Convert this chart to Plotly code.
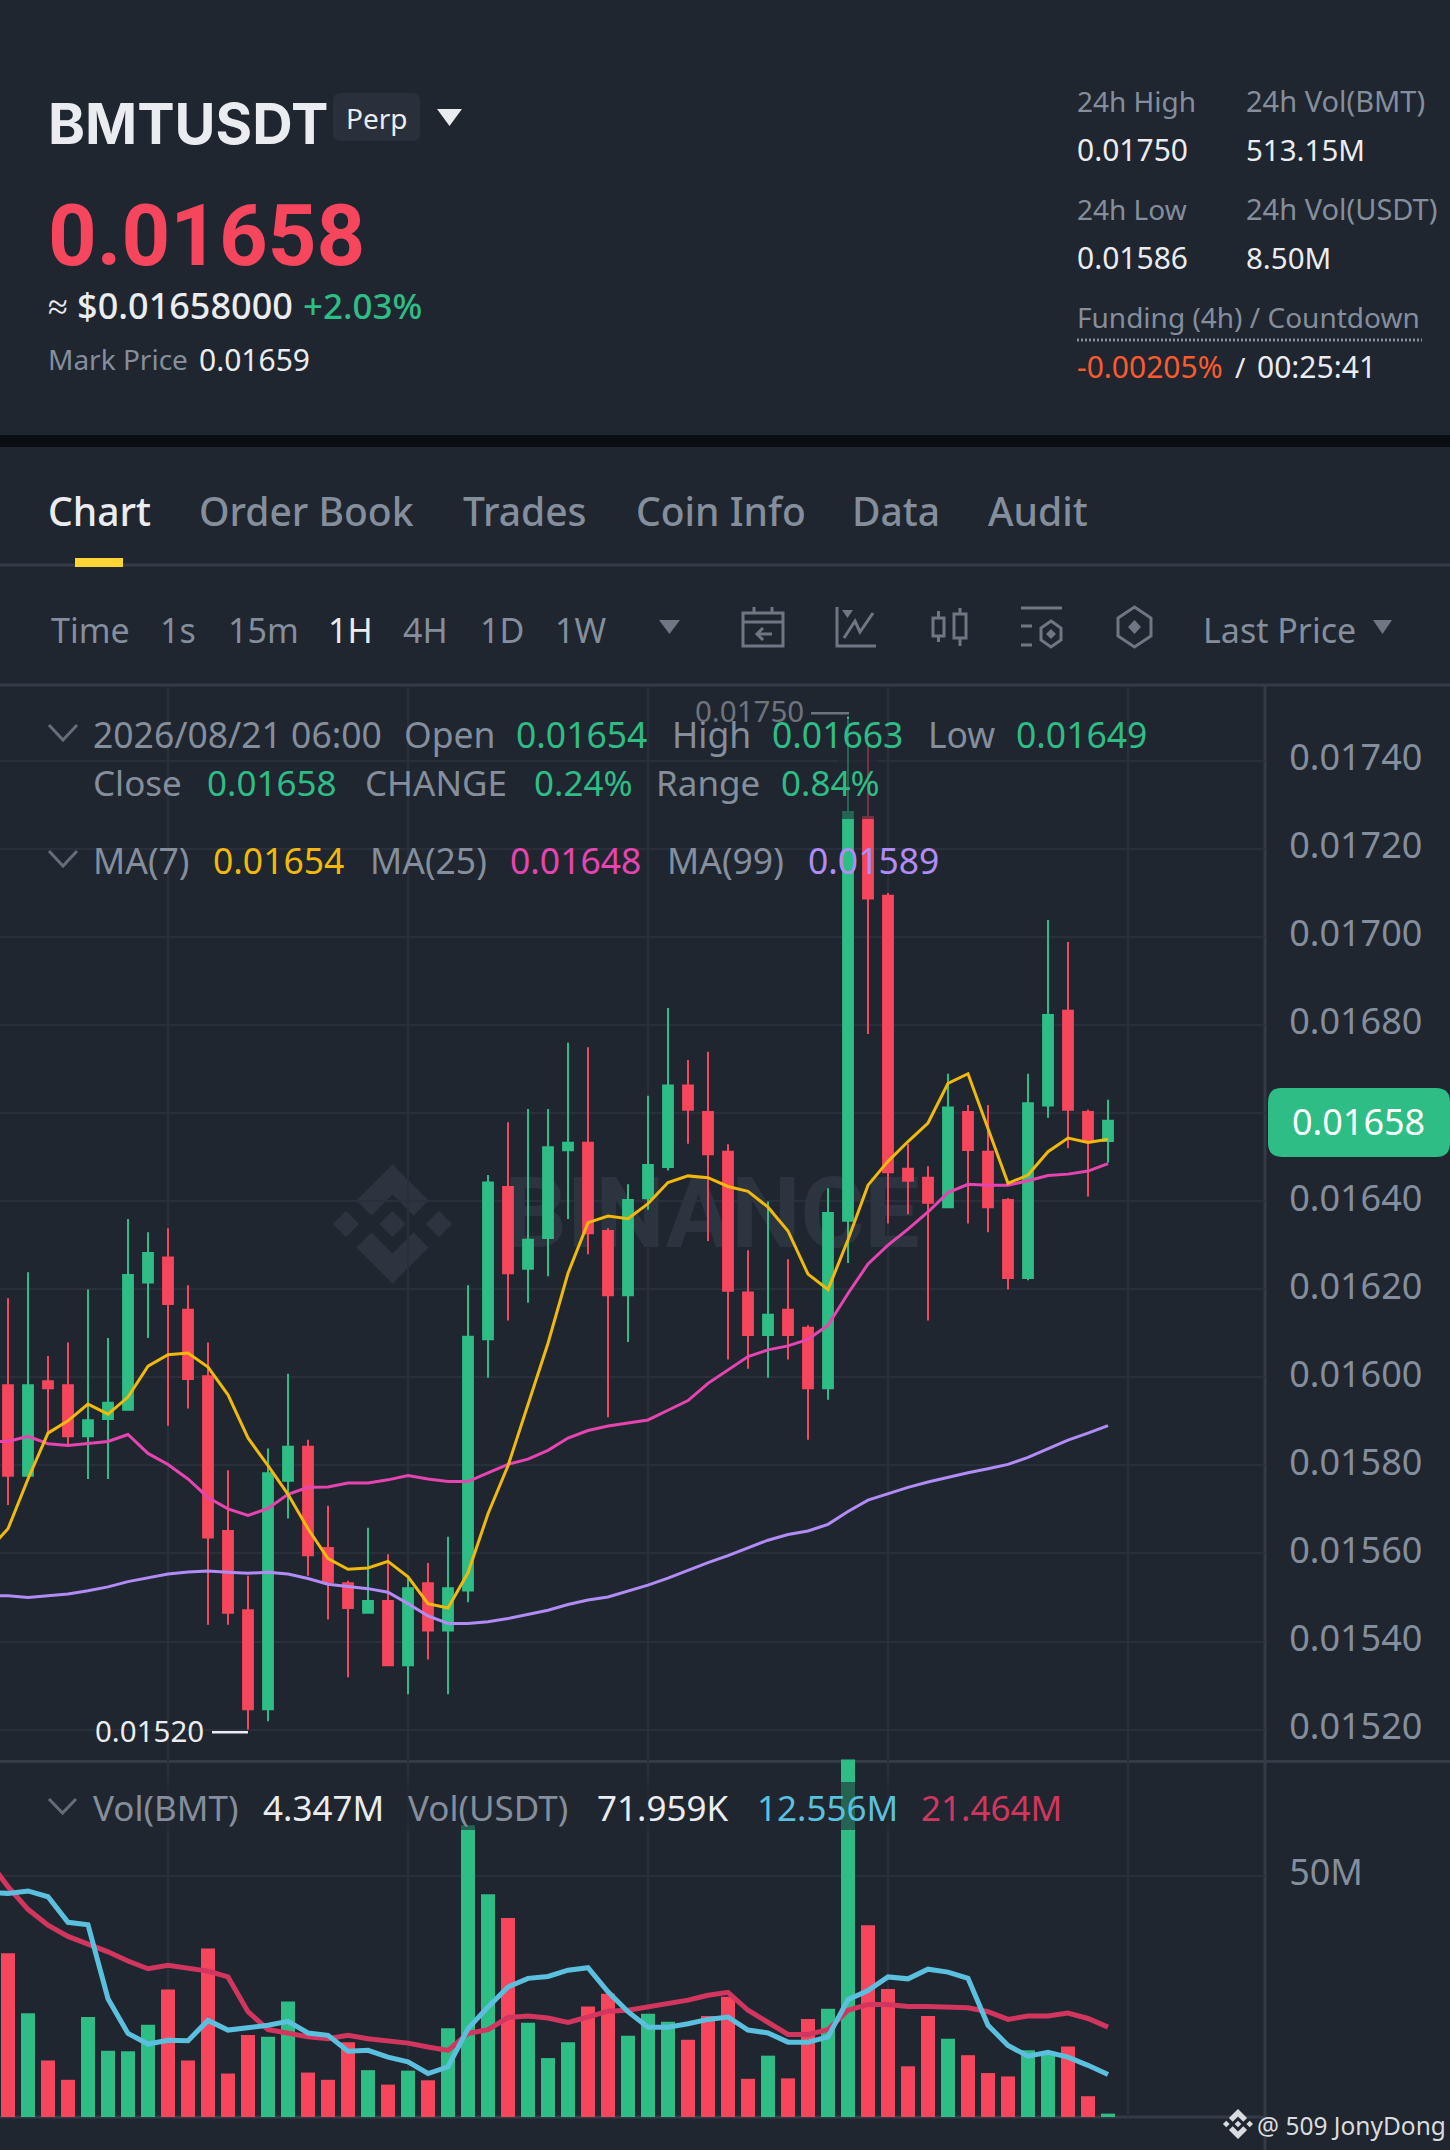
import plotly.graph_objects as go

W, H = 1450, 2150
BG = '#1f2630'
GRID = '#2a303b'
SEP = '#343b47'
GRAY = '#848e9c'
WHITE = '#eaecef'
UP = '#2ebd85'
DOWN = '#f6465d'
FONT = 'Noto Sans'

# candles, prices in units of 0.00001
opens = [1598.2, 1577.6, 1599.1, 1598.2, 1586.6, 1590.5, 1592.6, 1621.5, 1627.2, 1615.3, 1600.2, 1565.1, 1547.1, 1524.6,
         1576.5, 1584.2, 1561.2, 1553.2, 1546.5, 1549.2, 1534.6, 1553.2, 1542.5, 1551.6, 1608.6, 1643.2, 1624.6, 1631.6,
         1651.5, 1653.2, 1633.2, 1618.6, 1640.6, 1647.7, 1666.2, 1660.2, 1651.2, 1619.2, 1609.6, 1615.3, 1611.2, 1597.5,
         1635.5, 1727.2, 1709.3, 1647.3, 1645.3, 1638.6, 1660.2, 1651.2, 1640.2, 1622.5, 1661.7, 1683.2, 1660.2, 1653.6]
highs = [1617.9, 1623.8, 1604.8, 1607.9, 1619.9, 1608.9, 1635.9, 1632.9, 1633.8, 1620.9, 1607.9, 1578.9, 1554.9, 1583.8,
         1600.8, 1585.8, 1570.8, 1553.8, 1565.8, 1559.8, 1554.3, 1557.8, 1563.8, 1620.9, 1645.9, 1657.9, 1660.9, 1660.9,
         1675.9, 1674.9, 1633.8, 1643.8, 1663.9, 1683.8, 1672.0, 1673.9, 1652.9, 1628.8, 1639.9, 1626.8, 1611.8, 1642.9,
         1750.0, 1743.5, 1709.9, 1653.0, 1647.9, 1668.9, 1661.8, 1661.8, 1640.7, 1668.9, 1703.8, 1698.8, 1660.8, 1663.0]
lows = [1571.0, 1577.6, 1587.3, 1584.7, 1576.9, 1576.9, 1592.6, 1608.9, 1589.0, 1592.9, 1543.8, 1543.8, 1520.0, 1521.9,
        1567.9, 1554.9, 1545.0, 1531.9, 1546.5, 1534.6, 1528.0, 1535.9, 1528.0, 1548.9, 1599.9, 1612.9, 1616.9, 1622.9,
        1635.9, 1627.9, 1590.9, 1608.0, 1638.0, 1646.9, 1653.0, 1630.9, 1604.0, 1601.9, 1599.9, 1604.0, 1585.8, 1594.9,
        1625.9, 1677.9, 1634.9, 1637.0, 1612.9, 1638.6, 1634.9, 1632.9, 1619.9, 1622.0, 1658.9, 1652.0, 1641.0, 1648.7]
closes = [1577.6, 1598.2, 1597.5, 1586.6, 1590.2, 1594.2, 1623.2, 1628.2, 1616.6, 1599.6, 1563.6, 1546.5, 1524.6, 1578.2,
          1584.2, 1559.6, 1553.5, 1547.6, 1549.2, 1534.6, 1552.1, 1542.5, 1552.1, 1609.2, 1644.2, 1623.6, 1631.2, 1652.2,
          1653.2, 1632.7, 1618.6, 1640.2, 1648.2, 1666.2, 1660.7, 1650.6, 1619.6, 1609.6, 1614.2, 1609.6, 1597.5, 1637.3,
          1728.3, 1708.7, 1646.5, 1644.6, 1639.6, 1661.2, 1651.6, 1638.6, 1622.5, 1662.2, 1682.2, 1660.7, 1653.5, 1658.2]

# moving averages start one candle left of the screen edge
ma7 = [1560.6, 1565.6, 1576.9, 1587.3, 1590.1, 1593.9, 1591.6, 1595.5, 1602.5, 1605.1, 1605.5, 1602.3, 1596.0, 1586.2,
       1579.9, 1573.4, 1565.6, 1558.8, 1556.4, 1556.7, 1558.2, 1554.7, 1548.6, 1547.6, 1555.6, 1569.0, 1579.9, 1593.8,
       1607.7, 1623.6, 1635.1, 1636.6, 1636.0, 1639.4, 1644.2, 1645.7, 1645.3, 1643.3, 1642.2, 1638.6, 1633.2, 1623.4,
       1619.9, 1631.2, 1643.6, 1649.0, 1653.5, 1657.7, 1666.7, 1668.9, 1656.5, 1644.0, 1645.9, 1651.2, 1654.3, 1653.3, 1654.0]
ma25 = [1585.4, 1585.4, 1586.6, 1584.9, 1584.5, 1584.9, 1585.4, 1587.0, 1582.7, 1580.2, 1576.9, 1572.7, 1570.1, 1568.6,
        1570.2, 1573.4, 1575.0, 1575.1, 1576.0, 1576.0, 1576.7, 1577.7, 1576.9, 1576.3, 1576.3, 1578.3, 1580.2, 1581.4,
        1583.4, 1586.2, 1587.9, 1588.9, 1589.6, 1590.3, 1592.5, 1594.7, 1598.6, 1601.6, 1604.7, 1606.2, 1607.1, 1608.6,
        1611.8, 1619.0, 1625.7, 1630.0, 1633.6, 1637.5, 1641.9, 1643.8, 1643.6, 1643.6, 1644.6, 1645.8, 1646.1, 1646.8, 1648.5]
ma99 = [1550.4, 1550.4, 1550.0, 1550.4, 1550.8, 1551.5, 1552.4, 1553.6, 1554.4, 1555.3, 1555.8, 1556.0, 1555.7, 1555.5,
        1555.7, 1555.3, 1554.3, 1553.0, 1552.5, 1552.0, 1551.2, 1548.6, 1545.8, 1544.1, 1544.1, 1544.5, 1545.2, 1546.1,
        1547.1, 1548.4, 1549.4, 1550.1, 1551.4, 1552.8, 1554.4, 1556.2, 1557.9, 1559.5, 1561.2, 1563.0, 1564.3, 1565.1,
        1566.6, 1569.5, 1572.1, 1573.6, 1575.0, 1576.2, 1577.3, 1578.3, 1579.2, 1580.2, 1581.8, 1583.8, 1585.7, 1587.3, 1589.0]

# volume in millions
volumes = [33.9, 21.5, 11.7, 7.7, 20.7, 13.7, 13.6, 19.1, 26.4, 11.7, 34.9, 9.0, 17.0, 16.6, 23.9, 9.2, 7.7, 15.5, 9.7,
           6.7, 9.6, 7.6, 18.4, 60.4, 46.1, 41.2, 19.5, 12.2, 15.5, 22.9, 25.5, 16.8, 21.4, 19.7, 16.0, 20.9, 24.9, 7.9,
           12.7, 8.0, 20.3, 22.4, 74.0, 39.7, 26.5, 10.5, 20.9, 16.2, 12.8, 9.1, 8.4, 13.8, 13.5, 14.6, 4.3, 0.7]
vol_ma_fast = [46.5, 46.3, 46.8, 45.6, 40.3, 39.8, 24.5, 17.3, 15.1, 15.9, 15.8, 20.0, 18.0, 18.5, 19.0, 19.8, 17.4, 16.9,
               13.6, 13.8, 12.4, 11.4, 9.0, 10.4, 18.3, 22.8, 26.9, 28.7, 29.1, 30.4, 30.9, 25.9, 21.8, 18.6, 18.6, 19.3,
               20.2, 20.7, 18.0, 17.4, 15.5, 15.5, 16.6, 24.3, 26.2, 29.0, 28.6, 30.6, 30.0, 28.7, 19.0, 14.8, 12.6, 13.4,
               12.4, 10.7, 8.8]
vol_ma_slow = [53.2, 47.7, 43.0, 39.7, 37.4, 35.9, 34.2, 32.3, 30.7, 31.4, 30.7, 30.2, 29.0, 21.8, 18.1, 17.4, 16.6, 16.2,
               16.9, 16.2, 15.7, 15.3, 14.5, 13.8, 17.3, 18.1, 20.6, 20.9, 20.5, 19.6, 20.7, 21.9, 22.1, 22.8, 23.7, 24.2,
               25.2, 25.8, 22.1, 19.7, 17.1, 17.1, 18.1, 22.1, 23.3, 23.3, 22.9, 22.9, 22.8, 22.6, 21.8, 20.2, 20.9, 20.9,
               21.5, 20.4, 18.6]

price_ticks = [1520, 1540, 1560, 1580, 1600, 1620, 1640, 1660, 1680, 1700, 1720, 1740]
time_grid = [8, 20, 32, 44, 56]

candle_x = list(range(len(opens)))
ma_x = list(range(-1, len(opens)))
unit = 1e-5


def prices(values):
    return [round(v * unit, 7) for v in values]


def px(x, y):
    return x / W, 1 - y / H


def price_at(y):
    # screen row -> price unit, the pane has 4.405 px per unit
    return 1640 + (1201 - y) / 4.405


x_range = [(0 - 8) / 20, (1265 - 8) / 20]
x_dom = [0, 1265 / W]
price_dom = [1 - 1761 / H, 1 - 686 / H]
price_range = [price_at(1761) * unit, price_at(686) * unit]
vol_dom = [1 - 2117 / H, 1 - 1750 / H]
vol_range = [0, (2117 - 1750) / 4.83]

fig = go.Figure()

# watermark word sits in the base subplot so the candles cover it
fig.add_trace(go.Scatter(x=[(712 - 8) / 20], y=[price_at(1222) * unit], mode='text', text=['BINANCE'],
                         textfont=dict(family='Roboto', size=98, color='#2c343f', weight=700),
                         textposition='middle center', hoverinfo='skip', showlegend=False, xaxis='x', yaxis='y'))

fig.add_trace(go.Candlestick(x=candle_x, open=prices(opens), high=prices(highs), low=prices(lows), close=prices(closes),
                             increasing=dict(line=dict(color=UP, width=2), fillcolor=UP),
                             decreasing=dict(line=dict(color=DOWN, width=2), fillcolor=DOWN),
                             whiskerwidth=0, hoverinfo='skip', showlegend=False, xaxis='x2', yaxis='y2'))
for values, color in [(ma99, '#b18cf6'), (ma25, '#e645b0'), (ma7, '#f0b90b')]:
    fig.add_trace(go.Scatter(x=ma_x, y=prices(values), mode='lines', line=dict(color=color, width=3),
                             hoverinfo='skip', showlegend=False, xaxis='x2', yaxis='y2'))

bar_colors = [UP if c >= o else DOWN for o, c in zip(opens, closes)]
fig.add_trace(go.Bar(x=candle_x, y=volumes, width=0.7, marker=dict(color=bar_colors, line=dict(width=0)),
                     hoverinfo='skip', showlegend=False, xaxis='x3', yaxis='y3'))
fig.add_trace(go.Scatter(x=ma_x, y=vol_ma_slow, mode='lines', line=dict(color='#d2365f', width=5),
                         hoverinfo='skip', showlegend=False, xaxis='x3', yaxis='y3'))
fig.add_trace(go.Scatter(x=ma_x, y=vol_ma_fast, mode='lines', line=dict(color='#5bc0de', width=5),
                         hoverinfo='skip', showlegend=False, xaxis='x3', yaxis='y3'))

notes = []
shapes = []


def note(x, y, text, size, color=GRAY, weight=None, family=FONT):
    fx, fy = px(x - 1, y)
    notes.append(dict(x=fx, y=fy, xref='paper', yref='paper', text=text, showarrow=False, xanchor='left',
                      yanchor='middle', borderpad=0, font=dict(family=family, size=size, color=color, weight=weight)))


def poly(points, fill=None, line=None, width=3, closed=True, layer='above'):
    d = ''
    for i, (x, y) in enumerate(points):
        fx, fy = px(x, y)
        d += ('M' if i == 0 else 'L') + f'{fx:.5f},{fy:.5f}'
    if closed:
        d += 'Z'
    shapes.append(dict(type='path', path=d, xref='paper', yref='paper', fillcolor=fill or 'rgba(0,0,0,0)',
                       line=dict(color=line or 'rgba(0,0,0,0)', width=width if line else 0), layer=layer))


def rect(x0, y0, x1, y1, fill, layer='below'):
    fx0, fy0 = px(x0, y0)
    fx1, fy1 = px(x1, y1)
    shapes.append(dict(type='rect', xref='paper', yref='paper', x0=fx0, y0=fy0, x1=fx1, y1=fy1, fillcolor=fill,
                       line=dict(width=0), layer=layer))


def rounded(x0, y0, x1, y1, r, fill, layer='below'):
    a, b = px(x0, y0)
    c, d_ = px(x1, y1)
    rx, ry = r / W, r / H
    d = (f'M{a + rx},{b} L{c - rx},{b} Q{c},{b} {c},{b - ry} L{c},{d_ + ry} Q{c},{d_} {c - rx},{d_} '
         f'L{a + rx},{d_} Q{a},{d_} {a},{d_ + ry} L{a},{b - ry} Q{a},{b} {a + rx},{b} Z')
    shapes.append(dict(type='path', path=d, xref='paper', yref='paper', fillcolor=fill, line=dict(width=0), layer=layer))


def logo(cx, cy, r, color, layer='below'):
    k = r / 59.5
    for dx in (-46.5, 46.5, 0):
        poly([(cx + dx * k, cy - 13.2 * k), (cx + dx * k + 13.2 * k, cy), (cx + dx * k, cy + 13.2 * k),
              (cx + dx * k - 13.2 * k, cy)], fill=color, layer=layer)
    for s in (-1, 1):
        poly([(cx, cy + s * 59.5 * k), (cx + 36 * k, cy + s * 23.5 * k), (cx + 21 * k, cy + s * 8.5 * k),
              (cx, cy + s * 29.5 * k), (cx - 21 * k, cy + s * 8.5 * k), (cx - 36 * k, cy + s * 23.5 * k)],
             fill=color, layer=layer)


def triangle(x0, x1, y0, y1, color):
    poly([(x0, y0), (x1, y0), ((x0 + x1) / 2, y1)], fill=color)


def chevron(x0, x1, y0, y1):
    poly([(x0, y0), ((x0 + x1) / 2, y1), (x1, y0)], line='#656d7a', width=3, closed=False)


# header band
rect(0, 435, W, 447, '#0b0e11')
note(48, 124, 'BMTUSDT', 56, WHITE, 700, 'Inter')
rounded(333, 93, 420, 141, 8, '#2a303b')
note(346, 118, 'Perp', 28, WHITE)
triangle(437, 462, 109, 126, WHITE)
note(48, 236, '0.01658', 85, DOWN, 700, 'Roboto')
note(48, 306, '≈ $0.01658000', 36, WHITE, 500)
note(303, 306, '+2.03%', 35, UP, 500)
note(48, 359, 'Mark Price', 28, GRAY)
note(199, 359, '0.01659', 30, WHITE)

note(1077, 101, '24h High', 28, GRAY)
note(1246, 101, '24h Vol(BMT)', 29, GRAY)
note(1077, 149, '0.01750', 30, WHITE)
note(1246, 149, '513.15M', 29.5, WHITE)
note(1077, 209, '24h Low', 28, GRAY)
note(1246, 209, '24h Vol(USDT)', 29, GRAY)
note(1077, 257, '0.01586', 30, WHITE)
note(1246, 257, '8.50M', 29.5, WHITE)
note(1077, 317, 'Funding (4h) / Countdown', 28, GRAY)
x0, y0 = px(1077, 340)
x1, _ = px(1422, 340)
shapes.append(dict(type='line', xref='paper', yref='paper', x0=x0, y0=y0, x1=x1, y1=y0, layer='below',
                   line=dict(color=GRAY, width=3, dash='2px,2px')))
note(1077, 367, '-0.00205%', 30, '#fc5a2d')
note(1235, 367, '/', 28, WHITE)
note(1257, 367, '00:25:41', 30, WHITE)

# tabs
for x, label, color in [(48, 'Chart', WHITE), (199, 'Order Book', GRAY), (463, 'Trades', GRAY), (636, 'Coin Info', GRAY),
                        (852, 'Data', GRAY), (988, 'Audit', GRAY)]:
    note(x, 511, label, 39, color, 500)
rect(0, 563.5, W, 566.5, SEP)
rect(75, 558, 123, 567, '#fcd535')

# timeframe row
for x, label, color in [(51, 'Time', GRAY), (160, '1s', GRAY), (228, '15m', GRAY), (328, '1H', WHITE), (403, '4H', GRAY),
                        (480, '1D', GRAY), (555, '1W', GRAY), (1203, 'Last Price', GRAY)]:
    note(x, 630, label, 34, color)
triangle(659, 680, 620, 634, '#6f7784')
triangle(1373, 1392, 620, 634, '#6f7784')
rect(0, 683.5, W, 686.5, SEP)

ICON = '#6f7784'
# calendar
poly([(743, 613), (783, 613), (783, 646), (743, 646)], line=ICON)
poly([(743, 622), (783, 622)], line=ICON, closed=False)
poly([(754, 607), (754, 613)], line=ICON, closed=False)
poly([(772, 607), (772, 613)], line=ICON, closed=False)
poly([(772, 634), (757, 634)], line=ICON, closed=False)
poly([(763, 628), (757, 634), (763, 640)], line=ICON, closed=False)
# line chart
poly([(837, 607), (837, 646), (876, 646)], line=ICON, closed=False)
poly([(844, 638), (855, 621), (860, 632), (873, 613)], line=ICON, closed=False)
poly([(842, 610), (853, 610), (847.5, 618)], fill=ICON)
# candles
poly([(933, 618), (944, 618), (944, 636), (933, 636)], line=ICON)
poly([(938.5, 611), (938.5, 618)], line=ICON, closed=False)
poly([(938.5, 636), (938.5, 642)], line=ICON, closed=False)
poly([(954, 614), (966, 614), (966, 638), (954, 638)], line=ICON)
poly([(960, 608), (960, 614)], line=ICON, closed=False)
poly([(960, 638), (960, 646)], line=ICON, closed=False)
# settings rows
poly([(1021, 608), (1062, 608)], line=ICON, closed=False)
poly([(1021, 626), (1032, 626)], line=ICON, closed=False)
poly([(1021, 645), (1032, 645)], line=ICON, closed=False)
poly([(1051, 621), (1061, 628), (1061, 640), (1051, 647), (1041, 640), (1041, 628)], line=ICON)
poly([(1051, 629), (1056, 634), (1051, 639), (1046, 634)], fill=ICON)
# hexagon
poly([(1134.5, 607), (1151, 618), (1151, 636), (1134.5, 647), (1118, 636), (1118, 618)], line=ICON)
poly([(1134.5, 620), (1141, 627), (1134.5, 634), (1128, 627)], fill=ICON)

# panes
rect(1263.5, 686, 1266.5, H, SEP)
rect(0, 1760, W, 1763, SEP)
rect(0, 2115.5, 1265, 2118.5, SEP)
logo(392.5, 1224, 59.5, '#2c343f')

# legend rows, dim patch under the text where the spike passes
rect(838, 719, 878, 819, 'rgba(31,38,48,0.6)', 'above')
rect(95, 1782, 1010, 1830, 'rgba(31,38,48,0.6)', 'above')
chevron(49, 77, 725, 740)
for x, label, color in [(93, '2026/08/21 06:00', GRAY), (404, 'Open', GRAY), (516, '0.01654', UP), (672, 'High', GRAY),
                        (772, '0.01663', UP), (928, 'Low', GRAY), (1016, '0.01649', UP)]:
    note(x, 734, label, 35.5, color)
for x, label, color in [(93, 'Close', GRAY), (207, '0.01658', UP), (365, 'CHANGE', GRAY), (534, '0.24%', UP),
                        (656, 'Range', GRAY), (781, '0.84%', UP)]:
    note(x, 782, label, 35, color)
chevron(49, 77, 851, 866)
for x, label, color in [(93, 'MA(7)', GRAY), (213, '0.01654', '#f0b90b'), (370, 'MA(25)', GRAY), (510, '0.01648', '#e645b0'),
                        (667, 'MA(99)', GRAY), (808, '0.01589', '#b18cf6')]:
    note(x, 860, label, 35.5, color)
note(695, 710, '0.01750', 29.5, '#6f747c')
rect(811, 712, 849, 714.5, '#6f747c', 'above')
note(95, 1730, '0.01520', 29.5, WHITE)
rect(212, 1731, 248, 1733.5, WHITE, 'above')

chevron(49, 76, 1799, 1813)
for x, label, color in [(93, 'Vol(BMT)', GRAY), (263, '4.347M', WHITE), (408, 'Vol(USDT)', GRAY), (597, '71.959K', WHITE),
                        (757, '12.556M', '#5bc0de'), (921, '21.464M', '#d2365f')]:
    note(x, 1807, label, 35, color)

# last price tag
rounded(1268, 1088, 1450, 1157, 14, UP, 'above')
note(1292, 1121, '0.01658', 36, '#ffffff')

# footer tag
logo(1238, 2124, 15, '#d9dbdf', 'above')
note(1257, 2125, '@ 509 JonyDong', 24.5, '#d9dbdf')

axis_off = dict(visible=False, fixedrange=True)
fig.update_layout(
    width=W, height=H,
    margin=dict(l=0, r=0, t=0, b=0),
    paper_bgcolor=BG, plot_bgcolor='rgba(0,0,0,0)',
    showlegend=False,
    annotations=notes,
    shapes=shapes,
    xaxis=dict(domain=x_dom, range=x_range, anchor='y', tickvals=time_grid, showticklabels=False, ticks='',
               gridcolor=GRID, gridwidth=2, zeroline=False, showline=False, fixedrange=True),
    # 0.01660 has no label of its own, the last price tag sits on that row
    yaxis=dict(domain=price_dom, range=price_range, anchor='x', side='right', tickvals=prices(price_ticks),
               ticktext=['' if v == 1660 else f'{v * unit:.5f}' for v in price_ticks], ticks='outside', ticklen=16,
               tickcolor='rgba(0,0,0,0)', ticklabelshift=-3,
               tickfont=dict(family=FONT, size=36, color=GRAY), gridcolor=GRID, gridwidth=2, zeroline=False,
               showline=False, fixedrange=True),
    xaxis2=dict(range=x_range, overlaying='x', anchor='y2', rangeslider=dict(visible=False), **axis_off),
    yaxis2=dict(range=price_range, overlaying='y', anchor='x2', **axis_off),
    xaxis3=dict(domain=x_dom, range=x_range, anchor='y3', tickvals=time_grid, showticklabels=False, ticks='',
                gridcolor=GRID, gridwidth=2, zeroline=False, showline=False, fixedrange=True),
    yaxis3=dict(domain=vol_dom, range=vol_range, anchor='x3', side='right', tickvals=[50], ticktext=['50M'],
                ticks='outside', ticklen=16, tickcolor='rgba(0,0,0,0)', ticklabelshift=-3,
                tickfont=dict(family=FONT, size=36, color=GRAY),
                gridcolor=GRID, gridwidth=2, zeroline=False, showline=False, fixedrange=True),
)

fig.write_html('out.html', config=dict(displayModeBar=False),
               post_script="document.body.style.margin='0';document.body.style.overflow='hidden';")
